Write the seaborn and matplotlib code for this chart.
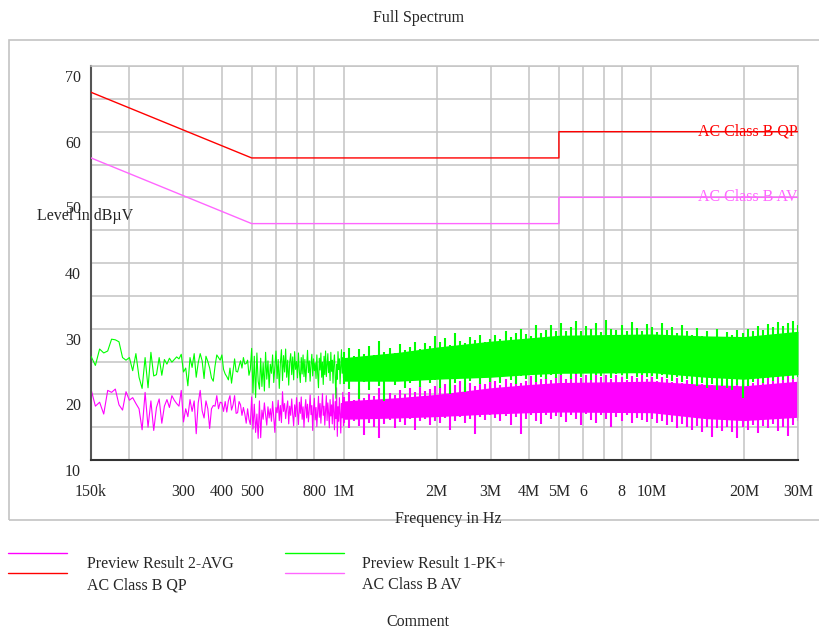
import numpy as np
import matplotlib
matplotlib.use('Agg')
import matplotlib.pyplot as plt
import seaborn as sns
from matplotlib.lines import Line2D
from matplotlib.patches import Rectangle
from matplotlib.transforms import blended_transform_factory, ScaledTranslation

# Scan below 1 MHz: receiver starts at 150 kHz with a 5 kHz step
scan_start_hz = 150e3
scan_step_hz = 5e3

# Preview Result 1-PK+ (dBuV), 150 kHz .. 1 MHz
pk_low = [
    25.8, 24.4, 26.9, 26.3, 26.6, 28.4, 28.3, 28.0, 25.6, 25.2, 25.6,
    23.6, 26.2, 22.6, 20.9, 25.6, 21.0, 26.4, 22.8, 23.0, 25.6,
    22.9, 25.3, 24.6, 25.5, 24.9, 25.3, 25.7, 25.4, 26.1, 23.4,
    24.0, 21.3, 25.6, 24.1, 26.2, 22.6, 24.8, 26.2, 25.1, 22.4,
    25.8, 25.0, 24.0, 22.5, 22.0, 24.3, 26.0, 25.6, 25.2, 26.0,
    23.8, 23.1, 22.7, 22.2, 24.0, 21.7, 23.6, 25.4, 23.5, 23.4,
    24.3, 25.1, 24.0, 25.6, 24.6, 24.7, 25.2, 22.9, 23.8, 27.0,
    20.2, 25.8, 19.5, 26.3, 22.0, 20.8, 25.5, 21.2, 24.8, 20.5,
    26.4, 22.3, 25.1, 21.0, 24.6, 23.2, 26.0, 21.8, 24.2, 26.6,
    22.4, 25.3, 20.9, 24.7, 26.8, 22.1, 25.9, 23.4, 26.9, 22.6,
    25.2, 21.4, 24.9, 26.2, 23.0, 25.7, 22.2, 26.5, 23.8, 25.0,
    22.5, 26.3, 23.4, 21.8, 25.6, 23.1, 26.0, 22.7, 25.3, 21.9,
    24.4, 26.7, 23.3, 25.1, 22.0, 24.6, 26.1, 22.8, 25.4, 23.6,
    24.8, 22.4, 26.0, 23.1, 21.0, 25.5, 23.7, 26.3, 22.6, 24.9,
    21.5, 25.8, 23.0, 26.6, 22.7, 24.5, 26.2, 23.3, 25.0, 22.1,
    26.4, 23.5, 25.2, 21.7, 24.8, 26.0, 22.9, 19.4, 24.6, 22.3,
    26.5, 23.8, 25.4, 21.6, 24.1, 26.8, 23.2, 25.6, 22.5, 24.7,
]

# Preview Result 2-AVG (dBuV), 150 kHz .. 1 MHz
avg_low = [
    20.8, 18.2, 18.8, 17.0, 20.6, 20.3, 20.8, 18.4, 17.6, 20.4, 19.1,
    19.5, 18.6, 17.8, 14.6, 20.3, 15.0, 19.0, 14.5, 18.0, 19.3,
    15.6, 18.2, 19.2, 18.0, 19.8, 19.1, 18.6, 18.2, 20.6, 15.8,
    17.8, 16.6, 19.2, 17.4, 19.0, 14.0, 18.7, 20.6, 17.5, 16.4,
    19.0, 17.8, 14.8, 17.8, 18.3, 18.2, 19.8, 17.8, 18.8, 18.7,
    17.4, 18.9, 17.3, 19.0, 19.8, 17.6, 18.4, 19.8, 17.1, 17.2,
    18.9, 18.4, 16.8, 18.0, 17.0, 15.6, 17.8, 16.2, 15.4, 19.6,
    14.7, 18.5, 14.2, 17.0, 13.3, 19.0, 13.4, 17.6, 16.2, 18.7,
    16.9, 15.3, 18.1, 16.4, 17.8, 15.9, 18.9, 16.6, 14.2, 18.0,
    17.2, 19.1, 16.0, 18.3, 15.7, 20.4, 17.4, 18.6, 16.3, 17.9,
    19.0, 15.5, 18.2, 16.8, 19.3, 17.0, 15.2, 18.4, 16.6, 19.5,
    17.3, 15.4, 18.8, 17.1, 19.6, 16.2, 18.1, 15.0, 17.7, 19.2,
    16.4, 18.5, 15.8, 17.6, 19.9, 16.9, 18.3, 14.5, 17.8, 19.4,
    16.1, 18.0, 15.1, 17.4, 19.7, 16.5, 18.6, 15.6, 17.9, 20.1,
    16.8, 18.2, 15.3, 17.5, 19.8, 16.0, 18.7, 17.1, 14.9, 19.2,
    16.7, 18.4, 15.5, 20.0, 17.2, 14.6, 18.9, 16.3, 21.0, 13.6,
    18.1, 15.9, 19.5, 17.0, 14.1, 18.6, 16.4, 20.3, 15.2, 18.0,
]

# Above 1 MHz the scan is too dense to resolve: a solid core band per trace ...
core_freq = [1e6, 1.5e6, 2e6, 3e6, 4e6, 5e6, 10e6, 15e6, 20e6, 30e6]
pk_core_top = [25.6, 26.4, 27.2, 28.1, 28.6, 29.0, 29.2, 28.9, 28.8, 29.6]
pk_core_bottom = [22.0, 22.0, 22.3, 22.6, 23.0, 23.2, 23.3, 22.6, 22.3, 23.0]
avg_core_top = [19.0, 19.5, 20.0, 21.0, 21.5, 21.8, 22.0, 21.5, 21.3, 22.0]
avg_core_bottom = [16.2, 16.4, 16.6, 17.0, 17.2, 17.3, 17.2, 16.3, 16.0, 16.5]

# ... plus the peak / dip extremes per log-spaced bin (1 MHz .. 30 MHz)
band_start_hz = 1e6
band_stop_hz = 30e6

pk_top = [
    26.4, 27.1, 25.8, 26.9, 26.2, 27.4, 26.0, 28.1, 26.5, 27.0,
    26.3, 27.6, 26.8, 27.2, 28.0, 26.9, 27.8, 27.3, 28.9,
    27.9, 28.6, 27.5, 29.4, 28.1, 27.8, 28.7, 28.2, 29.0, 27.9, 28.5,
    29.1, 28.4, 29.6, 28.8, 29.3, 30.0, 29.2, 28.9, 30.6, 29.4, 29.8, 30.5, 29.6,
    30.9, 29.7, 30.2, 31.1, 29.6, 30.4, 29.9, 30.8, 29.5, 31.3,
    30.0, 29.8, 30.6, 29.7, 31.0, 30.1, 29.6, 30.7,
    30.2, 29.5, 30.9, 29.8, 30.3, 29.4, 30.6, 29.7, 29.1, 30.1,
    28.9, 29.6, 28.8, 29.9, 28.7, 29.5, 29.0, 29.8,
    29.3, 30.0, 29.6, 30.4, 29.8, 30.7, 30.2, 31.0, 30.4, 30.8, 31.2, 30.6,
]
pk_bottom = [
    21.5, 20.8, 22.3, 19.3, 21.9, 20.6, 22.0, 21.2, 19.0, 22.1,
    21.4, 22.5, 20.9, 21.8, 22.4, 21.1, 22.6, 21.7, 22.2,
    21.0, 22.5, 20.1, 21.8, 22.7, 20.4, 22.0, 22.6, 21.5, 22.9, 21.9,
    22.6, 21.8, 23.0, 22.2, 21.6, 22.8, 22.3, 23.1, 21.9, 22.7, 22.4, 23.0, 22.5,
    22.9, 23.3, 22.4, 23.1, 22.7, 23.4, 22.2, 23.0, 22.8, 23.3,
    22.5, 23.1, 22.9, 22.4, 23.2, 22.7, 23.0, 22.6,
    22.8, 22.3, 23.0, 22.5, 22.1, 22.7, 21.9, 22.4, 21.6, 21.2,
    21.8, 20.9, 21.5, 20.6, 21.3, 21.0, 20.7, 21.4,
    19.5, 21.2, 21.9, 22.3, 21.7, 22.5, 22.0, 22.6, 22.2, 22.8, 22.4, 22.6,
]
avg_top = [
    19.6, 20.3, 19.2, 20.8, 19.5, 20.1, 19.8, 21.0, 19.4, 20.2,
    19.9, 20.6, 20.0, 20.9, 20.3, 21.2, 20.5, 20.8, 21.3,
    20.9, 21.6, 20.7, 21.4, 22.0, 21.1, 21.8, 21.3, 22.2, 21.5, 21.9,
    22.0, 21.4, 22.3, 21.8, 22.6, 21.7, 22.1, 22.8, 21.9, 22.4, 22.9, 22.2, 22.6,
    23.0, 22.4, 22.8, 23.2, 22.5, 22.9, 22.3, 23.1, 22.6, 22.9,
    22.4, 23.0, 22.7, 22.2, 22.8, 22.5, 23.0, 22.4,
    22.6, 22.1, 22.7, 22.3, 21.9, 22.5, 21.8, 22.2, 21.6, 22.0,
    21.5, 21.9, 21.4, 21.8, 21.3, 21.7, 21.2, 21.9,
    21.5, 22.1, 21.8, 22.4, 22.0, 22.6, 22.2, 22.8, 22.4, 22.9, 22.6, 23.0,
]
avg_bottom = [
    15.6, 14.8, 16.0, 15.2, 13.8, 15.7, 15.1, 13.4, 15.5, 16.1,
    14.9, 15.8, 15.3, 16.2, 14.6, 15.9, 16.3, 15.4, 16.0,
    15.7, 16.4, 14.5, 16.0, 16.6, 15.6, 16.3, 13.9, 16.5, 16.1, 16.8,
    16.4, 15.9, 16.7, 15.3, 16.6, 13.9, 16.2, 16.9, 16.0, 15.5, 16.8, 16.3, 16.7,
    16.5, 15.8, 16.9, 16.3, 15.4, 17.0, 16.1, 15.6, 16.8, 16.2,
    15.1, 16.6, 16.0, 16.9, 15.7, 16.4, 16.1, 15.8,
    16.2, 15.6, 16.0, 15.3, 15.8, 14.9, 15.5, 15.0, 14.6, 15.2,
    14.3, 15.0, 13.5, 14.8, 14.4, 15.1, 14.2, 13.4,
    15.0, 14.6, 15.3, 14.1, 15.2, 14.8, 15.5, 14.4, 15.1, 13.6, 15.4, 16.0,
]

# EN 55022 class B limit lines
limit_freq = [150e3, 500e3, 5e6, 5e6, 30e6]
limit_qp = [66, 56, 56, 60, 60]
limit_av = [56, 46, 46, 50, 50]

x_ticks = [150e3, 200e3, 300e3, 400e3, 500e3, 600e3, 700e3, 800e3, 1e6,
           2e6, 3e6, 4e6, 5e6, 6e6, 7e6, 8e6, 10e6, 20e6, 30e6]
x_label_freq = [150e3, 300e3, 400e3, 500e3, 800e3, 1e6, 2e6, 3e6, 4e6, 5e6,
                6e6, 8e6, 10e6, 20e6, 30e6]
x_label_text = ['150k', '300', '400', '500', '800', '1M', '2M', '3M', '4M', '5M',
                '6', '8', '10M', '20M', '30M']
y_ticks = list(range(10, 71, 5))
y_label_values = [10, 20, 30, 40, 50, 60, 70]

# Colours
c_pk = '#00ff00'
c_avg = '#ff00ff'
c_qp = '#ff0000'
c_av = '#ff66ff'
c_grid = '#c4c4c4'

sns.set_style('white')
plt.rcParams['font.family'] = ['Liberation Serif', 'DejaVu Serif']
plt.rcParams['font.size'] = 11.5

W, H = 819, 629
fig = plt.figure(figsize=(W / 100, H / 100), dpi=100)
ax = fig.add_axes([91 / W, 1 - 460 / H, (798 - 91) / W, (460 - 66) / H])

freq_low = scan_start_hz + scan_step_hz * np.arange(len(pk_low))
freq_band = np.geomspace(band_start_hz, band_stop_hz, len(pk_top))

# AVG trace (drawn first, PK+ lies over it)
ax.fill_between(core_freq, avg_core_bottom, avg_core_top, color=c_avg, lw=0, zorder=2)
ax.vlines(freq_band, avg_bottom, avg_top, color=c_avg, lw=1.5, zorder=2)
sns.lineplot(x=freq_low, y=avg_low, color=c_avg, lw=0.8, ax=ax,
             estimator=None, sort=False, zorder=2)

# PK+ trace
ax.fill_between(core_freq, pk_core_bottom, pk_core_top, color=c_pk, lw=0, zorder=3)
ax.vlines(freq_band, pk_bottom, pk_top, color=c_pk, lw=1.5, zorder=3)
sns.lineplot(x=freq_low, y=pk_low, color=c_pk, lw=0.8, ax=ax,
             estimator=None, sort=False, zorder=3)

# Limit lines
sns.lineplot(x=limit_freq, y=limit_qp, color=c_qp, lw=1.0, ax=ax,
             estimator=None, sort=False, zorder=4)
sns.lineplot(x=limit_freq, y=limit_av, color=c_av, lw=1.0, ax=ax,
             estimator=None, sort=False, zorder=4)
ax.text(30e6, 60, 'AC Class B QP', color=c_qp, ha='right', va='center', zorder=5)
ax.text(30e6, 50, 'AC Class B AV', color=c_av, ha='right', va='center', zorder=5)

# Axes
ax.set_xscale('log')
ax.set_xlim(150e3, 30e6)
ax.set_ylim(10, 70)
ax.set_xticks(x_ticks)
ax.xaxis.set_minor_locator(matplotlib.ticker.NullLocator())
ax.set_xticklabels([])
ax.set_yticks(y_ticks)
ax.set_yticklabels([])
ax.set_xlabel('')
ax.set_ylabel('')
ax.grid(True, color=c_grid, lw=1.1)
ax.set_axisbelow(True)
ax.tick_params(axis='y', direction='inout', length=10, width=1.2, color='#444444')
ax.tick_params(axis='x', direction='inout', length=9, width=1.2, color='#222222')
for side in ['top', 'right']:
    ax.spines[side].set_color(c_grid)
    ax.spines[side].set_linewidth(1.1)
ax.spines['left'].set_color('#555555')
ax.spines['left'].set_linewidth(1.5)
ax.spines['bottom'].set_color('#333333')
ax.spines['bottom'].set_linewidth(1.5)

# Tick labels sit a little below their ticks
y_trans = blended_transform_factory(ax.transAxes, ax.transData) + \
    ScaledTranslation(-0.10, -0.12, fig.dpi_scale_trans)
for v in y_label_values:
    ax.text(0, v, str(v), transform=y_trans, ha='right', va='center')
x_trans = blended_transform_factory(ax.transData, ax.transAxes) + \
    ScaledTranslation(0, -0.32, fig.dpi_scale_trans)
for f, lab in zip(x_label_freq, x_label_text):
    ax.text(f, 0, lab, transform=x_trans, ha='center', va='center')

# Outer frame and figure texts
fig.add_artist(Rectangle((9 / W, 1 - 520 / H), 1.0, (520 - 40) / H,
                         transform=fig.transFigure, fill=False,
                         ec='#c4c4c4', lw=1.2, zorder=0))
fig.text(419 / W, 1 - 18 / H, 'Full Spectrum', ha='center', va='center')
fig.text(37 / W, 1 - 216 / H, 'Level in dB\u00b5V', ha='left', va='center')
fig.text(448 / W, 1 - 519 / H, 'Frequency in Hz', ha='center', va='center')

# Legend
legend_rows = [
    (8, 553, c_avg, 87, 564, 'Preview Result 2-AVG'),
    (8, 573, c_qp, 87, 585, 'AC Class B QP'),
    (285, 553, c_pk, 362, 564, 'Preview Result 1-PK+'),
    (285, 573, c_av, 362, 585, 'AC Class B AV'),
]
for lx, ly, col, tx, ty, txt in legend_rows:
    fig.add_artist(Line2D([lx / W, (lx + 59) / W], [1 - ly / H, 1 - ly / H],
                          transform=fig.transFigure, color=col, lw=1.0))
    fig.text(tx / W, 1 - ty / H, txt, ha='left', va='center')

fig.text(418 / W, 1 - 622 / H, 'Comment', ha='center', va='center')

fig.savefig('out.png', dpi=100)
plt.close(fig)
